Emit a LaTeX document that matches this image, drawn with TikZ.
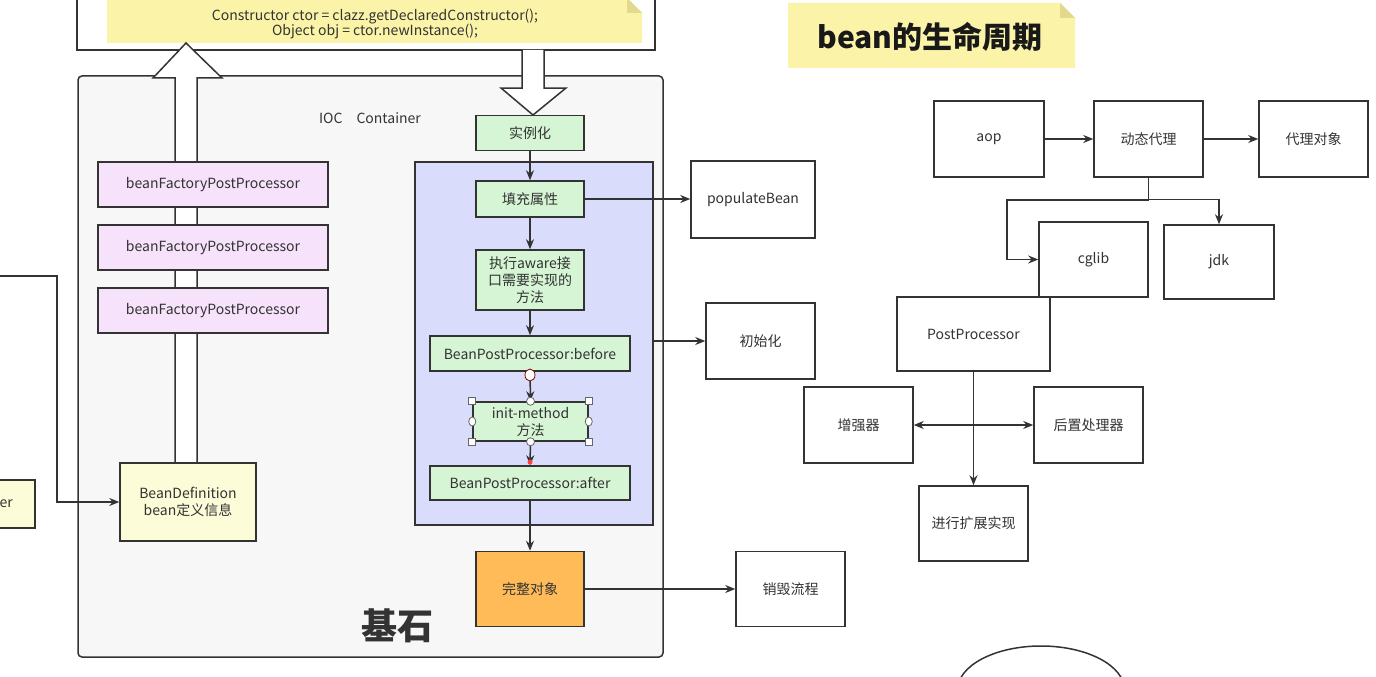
\documentclass[tikz,border=0pt]{standalone}
\usepackage{fontspec}
\setmainfont{Noto Sans CJK SC}
\usetikzlibrary{arrows.meta,calc,shapes.geometric}
\definecolor{edge}{HTML}{333333}
\definecolor{contfill}{HTML}{F7F7F7}
\definecolor{greenfill}{HTML}{D5F5D5}
\definecolor{bluefill}{HTML}{D9DCFB}
\definecolor{violetfill}{HTML}{F6E2FB}
\definecolor{paleyellow}{HTML}{FCFCD8}
\definecolor{notefill}{HTML}{FBF4A8}
\definecolor{notefold}{HTML}{E2D98E}
\definecolor{orangefill}{HTML}{FFBB57}
\definecolor{txt}{HTML}{333333}
\tikzset{
  box/.style={draw=edge, line width=1.5pt, align=center, inner sep=2pt,
    font=\fontsize{14}{17}\selectfont, text=txt},
  wbox/.style={box, fill=white},
  gbox/.style={box, fill=greenfill},
  vbox/.style={box, fill=violetfill},
  ybox/.style={box, fill=paleyellow},
  obox/.style={box, fill=orangefill},
  arr/.style={draw=edge, line width=1.5pt, -{Stealth[length=10pt,width=8pt]}},
  darr/.style={draw=edge, line width=1.5pt, {Stealth[length=10pt,width=8pt]}-{Stealth[length=10pt,width=8pt]}},
  plain/.style={draw=edge, line width=1.5pt},
  blockarrow/.style={draw=edge, line width=1.5pt, fill=white, line join=miter},
  hsq/.style={draw=black!60, fill=white, line width=0.8pt, rectangle, minimum size=7pt, inner sep=0pt},
  hci/.style={draw=black!60, fill=white, line width=0.8pt, circle, minimum size=8pt, inner sep=0pt},
}
\begin{document}
\begin{tikzpicture}[x=1pt,y=-1pt]
\useasboundingbox[fill=white] (0,0) rectangle (1376,677);

% ---------- IOC container ----------
\node[draw=edge, line width=1.5pt, fill=contfill, rounded corners=4pt,
  minimum width=585pt, minimum height=581pt, inner sep=0pt] (cont) at (370.5,366.5) {};
\node[font=\fontsize{14}{17}\selectfont, text=txt] (ioc) at (370,118) {IOC\hspace{1em}Container};
\node[font=\fontsize{36}{40}\selectfont\bfseries, text=txt] (jishi) at (397,626) {基石};

% ---------- top box with note ----------
\node[draw=edge, line width=1.5pt, fill=white, minimum width=578pt, minimum height=70pt, inner sep=0pt] (topbox) at (366,15) {};
\fill[notefill] (107,-2) -- (627,-2) -- (642,13) -- (642,43) -- (107,43) -- cycle;
\fill[notefold] (627,-2) -- (642,13) -- (627,13) -- cycle;
\node[font=\fontsize{14}{15}\selectfont, text=txt, align=center] (code) at (375,24)
  {Constructor ctor = clazz.getDeclaredConstructor();\\Object obj = ctor.newInstance();};

% ---------- block arrows ----------
\path[blockarrow] (175,465) -- (175,78) -- (153,78) -- (186,43) -- (222,78) -- (197,78) -- (197,465);
\path[blockarrow] (522,50) -- (522,88) -- (501,88) -- (533,115) -- (566,88) -- (544,88) -- (544,50);

% ---------- left column ----------
\node[vbox, minimum width=230pt, minimum height=45pt] (bf1) at (213,184.5) {beanFactoryPostProcessor};
\node[vbox, minimum width=230pt, minimum height=45pt] (bf2) at (213,247.5) {beanFactoryPostProcessor};
\node[vbox, minimum width=230pt, minimum height=45pt] (bf3) at (213,310.5) {beanFactoryPostProcessor};
\node[ybox, minimum width=136pt, minimum height=78pt] (bdef) at (188,502) {BeanDefinition\\bean定义信息};

\node[ybox, minimum width=50pt, minimum height=48pt] (reader) at (10,504) {};
\node[font=\fontsize{14}{17}\selectfont, text=txt, anchor=east, inner sep=0pt] (readertxt) at (13,504) {er};
\coordinate (lin) at (-2,276);
\draw[arr] (lin) -- (57,276) |- (bdef.west);

% ---------- blue region ----------
\node[draw=edge, line width=1.5pt, fill=bluefill, minimum width=238pt, minimum height=363pt, inner sep=0pt] (blue) at (534,343.5) {};

\node[gbox, minimum width=108pt, minimum height=35pt] (inst) at (530,133) {实例化};
\node[gbox, minimum width=108pt, minimum height=36pt] (fillp) at (530,199) {填充属性};
\node[gbox, minimum width=108pt, minimum height=60pt] (aware) at (530,280) {执行aware接\\口需要实现的\\方法};
\node[gbox, minimum width=200pt, minimum height=35pt] (before) at (530,353.5) {BeanPostProcessor:before};
\node[gbox, minimum width=115pt, minimum height=39pt] (initm) at (530.5,421.5) {init-method\\方法};
\node[gbox, minimum width=200pt, minimum height=34pt] (after) at (530,483) {BeanPostProcessor:after};
\node[obox, minimum width=108pt, minimum height=75pt] (whole) at (530,589) {完整对象};

\draw[arr] (inst) -- (fillp);
\draw[arr] (fillp) -- (aware);
\draw[arr] (aware) -- (before);
\draw[arr] (before) -- (initm);
\draw[arr] (initm) -- (after);
\draw[arr] (after) -- (whole);

% selection handles
\node[hsq] (h1) at (initm.north west) {};
\node[hsq] (h2) at (initm.north east) {};
\node[hsq] (h3) at (initm.south west) {};
\node[hsq] (h4) at (initm.south east) {};
\node[hci] (h5) at (initm.north) {};
\node[hci] (h6) at (initm.south) {};
\node[hci, minimum width=7pt, minimum height=9pt, ellipse] (h7) at (initm.west) {};
\node[hci, minimum width=7pt, minimum height=9pt, ellipse] (h8) at (initm.east) {};
\node[draw=red!50!black, fill=white, line width=0.8pt, ellipse, minimum width=10pt, minimum height=12pt, inner sep=0pt] (h9) at (530,375) {};
\node[fill=red!75, circle, minimum size=5pt, inner sep=0pt] (h10) at (530,462) {};

% ---------- middle boxes ----------
\node[wbox, minimum width=124pt, minimum height=77pt] (pop) at (753,199.5) {populateBean};
\node[wbox, minimum width=109pt, minimum height=76pt] (init2) at (760.5,341) {初始化};
\node[wbox, minimum width=109pt, minimum height=75pt] (destroy) at (790.5,589) {销毁流程};

\draw[arr] (fillp.east) -- (fillp.east -| pop.west);
\draw[arr] (blue.east |- init2.west) -- (init2.west);
\draw[arr] (whole.east) -- (whole.east -| destroy.west);

% ---------- title note ----------
\fill[notefill] (788,3) -- (1060,3) -- (1075,18) -- (1075,68) -- (788,68) -- cycle;
\fill[notefold] (1060,3) -- (1075,18) -- (1060,18) -- cycle;
\node[font=\fontsize{30}{34}\selectfont\bfseries, text=black!90] (title) at (930,37) {bean的生命周期};

% ---------- right graph ----------
\node[wbox, minimum width=110pt, minimum height=76pt] (aop) at (989,139) {aop};
\node[wbox, minimum width=109pt, minimum height=76pt] (dyn) at (1148.5,139) {动态代理};
\node[wbox, minimum width=109pt, minimum height=76pt] (pobj) at (1313.5,139) {代理对象};
\node[wbox, minimum width=109pt, minimum height=75pt] (cglib) at (1093.5,259.5) {cglib};
\node[wbox, minimum width=110pt, minimum height=74pt] (jdk) at (1219,262) {jdk};
\node[wbox, minimum width=153pt, minimum height=74pt] (pp) at (973.5,334) {PostProcessor};
\node[wbox, minimum width=109pt, minimum height=76pt] (enh) at (858.5,425) {增强器};
\node[wbox, minimum width=109pt, minimum height=76pt] (post) at (1088.5,425) {后置处理器};
\node[wbox, minimum width=109pt, minimum height=75pt] (ext) at (973.5,523.5) {进行扩展实现};
\node[draw=edge, line width=1.5pt, fill=white, ellipse, minimum width=167pt, minimum height=88pt] (ell) at (1041,690) {};

\draw[arr] (aop) -- (dyn);
\draw[arr] (dyn) -- (pobj);
\draw[arr] (dyn.south) |- (1007,200) |- (cglib.west);
\draw[arr] (dyn.south) |- ($(jdk.north)+(0,-25)$) -- (jdk.north);
\draw[arr] (pp.south) -- (ext.north);
\draw[darr] (enh.east) -- (post.west);
\end{tikzpicture}
\end{document}
